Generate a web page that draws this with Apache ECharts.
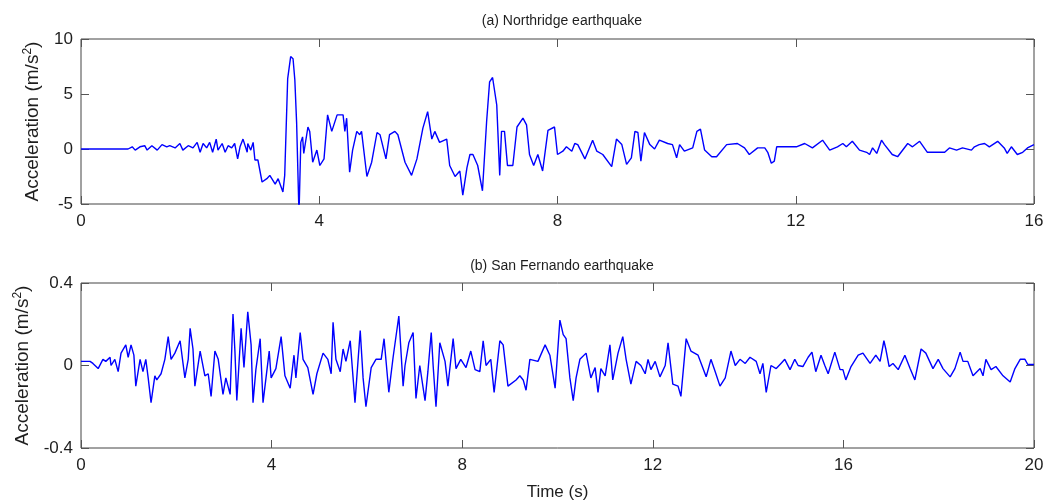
<!DOCTYPE html>
<html>
<head>
<meta charset="utf-8">
<script src="https://cdn.jsdelivr.net/npm/echarts/dist/echarts.min.js"></script>
<style>
  html, body { margin: 0; padding: 0; background: #fff; }
  #main { width: 1051px; height: 504px; }
</style>
</head>
<body>
<div id="main"></div>
<script>
// (a) Northridge: time (s) and acceleration (m/s2), read at the turning points
var tA = [0, 0.79, 0.86, 0.91, 0.99, 1.07, 1.11, 1.19, 1.28, 1.36, 1.44, 1.49, 1.58, 1.66, 1.71, 1.80, 1.88, 1.95,
  2.00, 2.05, 2.11, 2.16, 2.21, 2.27, 2.30, 2.37, 2.42, 2.47, 2.53, 2.58, 2.63, 2.67, 2.72, 2.79, 2.80, 2.85, 2.89, 2.92, 2.97,
  3.04, 3.12, 3.17, 3.26, 3.31, 3.39, 3.42, 3.47, 3.52, 3.56, 3.59, 3.62, 3.66, 3.69, 3.72, 3.74, 3.81, 3.84, 3.89, 3.96,
  4.01, 4.08, 4.14, 4.21, 4.30, 4.40, 4.43, 4.46, 4.51, 4.56, 4.63, 4.68, 4.71, 4.80, 4.82, 4.88, 4.97,
  5.02, 5.12, 5.18, 5.27, 5.32, 5.44, 5.55, 5.64, 5.74, 5.82, 5.89, 5.94,
  6.02, 6.14, 6.19, 6.28, 6.36, 6.41, 6.48, 6.53, 6.58, 6.66, 6.74, 6.81, 6.86, 6.91, 6.98,
  7.03, 7.06, 7.11, 7.16, 7.25, 7.32, 7.42, 7.48, 7.53, 7.60, 7.67, 7.75, 7.84, 7.95,
  8.00, 8.09, 8.15, 8.24, 8.29, 8.34, 8.46, 8.59, 8.66, 8.76, 8.91, 8.99,
  9.08, 9.16, 9.24, 9.30, 9.35, 9.40, 9.46, 9.55, 9.63, 9.71, 9.85, 9.93,
  10.00, 10.05, 10.13, 10.27, 10.34, 10.40, 10.47, 10.59, 10.67, 10.84,
  11.02, 11.14, 11.22, 11.36, 11.48, 11.53, 11.59, 11.64, 11.68, 11.81,
  12.01, 12.15, 12.28, 12.45, 12.57, 12.70, 12.79, 12.85, 12.95,
  13.07, 13.19, 13.24, 13.29, 13.36, 13.44, 13.49, 13.62, 13.71, 13.88, 13.96,
  14.08, 14.21, 14.50, 14.58, 14.70, 14.80, 14.95,
  15.00, 15.08, 15.17, 15.25, 15.39, 15.50, 15.55, 15.62, 15.72, 15.81, 15.89, 16.00];
var aA = [0, 0, 0.2, -0.1, 0.2, 0.3, -0.1, 0.3, -0.1, 0.4, 0.2, 0.3, 0.1, 0.5, -0.1, 0.3, 0.1, 0.6,
  -0.3, 0.5, 0.1, 0.6, -0.3, 0.9, -0.1, 0.5, -0.3, 0.3, 0.1, 0.5, -0.9, 0.2, 0.9, -0.3, 0.5, -0.1, 0.6, -1.0, -1.0,
  -3.0, -2.7, -2.4, -3.2, -2.7, -3.9, -2.4, 6.4, 8.4, 8.2, 6.3, 2.4, -6.0, 0.6, 1.1, -0.4, 2.0, 1.6, -1.2, -0.1,
  -1.5, -0.9, 3.1, 1.6, 3.1, 3.1, 1.6, 2.8, -2.1, -0.1, 1.6, 1.3, 1.6, -2.5, -2.6, -1.2, 1.5,
  1.3, -0.9, 1.3, 1.6, 1.3, -1.2, -2.4, -0.9, 1.9, 3.4, 0.9, 1.6,
  0.6, 0.9, -1.5, -2.5, -2.0, -4.2, -1.7, -0.5, -0.5, -1.5, -3.8, 2.5, 6.1, 6.5, 4.0,
  -2.4, 1.6, 1.6, -1.5, -1.5, 2.0, 2.8, 2.2, -0.5, -1.5, -0.5, -2.0, 1.7, 2.0,
  -0.5, -0.2, 0.2, -0.2, 0.5, 0.4, -0.9, 0.8, -0.2, -0.5, -1.6, 0.9,
  0.4, -1.4, -0.8, 1.6, 1.5, -1.1, 1.5, 0.4, 0.0, 0.8, 0.5, 0.4,
  -0.8, 0.4, -0.2, 0.1, 1.6, 1.8, -0.1, -0.7, -0.7, 0.4,
  0.5, 0.1, -0.5, 0.1, 0.1, -0.3, -1.3, -1.1, 0.2, 0.2,
  0.2, 0.5, 0.1, 0.8, -0.1, 0.2, 0.5, 0.2, 0.7,
  -0.1, -0.3, -0.5, 0.1, -0.4, 0.8, 0.4, -0.5, -0.7, 0.5, 0.2,
  0.7, -0.3, -0.3, 0.1, -0.1, 0.1, -0.1,
  0.2, 0.4, 0.5, 0.2, 0.7, 0.1, -0.4, 0.2, -0.5, -0.3, 0.1, 0.4];

// (b) San Fernando
var tB = [0, 0.19, 0.25, 0.36, 0.46, 0.52, 0.61, 0.63, 0.71, 0.78, 0.84, 0.94, 0.99,
  1.05, 1.11, 1.15, 1.24, 1.30, 1.36, 1.41, 1.47, 1.55, 1.59, 1.68, 1.76, 1.83, 1.89, 1.97,
  2.08, 2.18, 2.25, 2.29, 2.35, 2.39, 2.50, 2.60, 2.67, 2.73, 2.81, 2.88, 2.98,
  3.04, 3.13, 3.19, 3.23, 3.27, 3.36, 3.42, 3.50, 3.57, 3.61, 3.67, 3.76, 3.82, 3.95, 3.99,
  4.09, 4.20, 4.28, 4.39, 4.47, 4.51, 4.60, 4.66, 4.76, 4.87, 4.95,
  5.08, 5.18, 5.25, 5.29, 5.35, 5.44, 5.50, 5.56, 5.65, 5.75, 5.86, 5.92, 5.98,
  6.09, 6.19, 6.30, 6.36, 6.46, 6.55, 6.67, 6.76, 6.80, 6.88, 6.97,
  7.03, 7.11, 7.22, 7.28, 7.35, 7.39, 7.45, 7.53, 7.64, 7.70, 7.81, 7.87, 7.97,
  8.08, 8.18, 8.27, 8.37, 8.44, 8.50, 8.60, 8.67, 8.79, 8.86, 8.96,
  9.13, 9.21, 9.28, 9.34, 9.42, 9.59, 9.74, 9.84, 9.95,
  10.05, 10.12, 10.18, 10.26, 10.33, 10.39, 10.47, 10.60, 10.70, 10.79, 10.85, 10.91,
  11.00, 11.10, 11.16, 11.27, 11.37, 11.44, 11.54, 11.65, 11.75, 11.84, 11.90, 11.96,
  12.05, 12.15, 12.26, 12.32, 12.42, 12.53, 12.59, 12.70, 12.80, 12.95,
  13.12, 13.22, 13.31, 13.41, 13.52, 13.64, 13.73, 13.83, 13.94,
  14.04, 14.17, 14.25, 14.31, 14.38, 14.48, 14.59, 14.69, 14.77, 14.88, 14.98,
  15.05, 15.15, 15.26, 15.34, 15.42, 15.53, 15.61, 15.68, 15.82, 15.93, 15.99,
  16.05, 16.16, 16.31, 16.41, 16.56, 16.68, 16.77, 16.85, 16.89, 16.96,
  17.04, 17.15, 17.29, 17.40, 17.50, 17.63, 17.73, 17.88, 17.99,
  18.09, 18.24, 18.34, 18.45, 18.51, 18.61, 18.72, 18.87, 18.93, 18.99,
  19.10, 19.20, 19.35, 19.50, 19.60, 19.71, 19.81, 19.87, 20.00];
var aB = [0.02, 0.02, 0.01, -0.015, 0.03, 0.02, 0.04, 0.0, 0.03, -0.03, 0.06, 0.10, 0.04,
  0.10, 0.05, -0.10, 0.03, -0.03, 0.03, -0.06, -0.18, -0.05, -0.07, -0.04, 0.03, 0.14, 0.03, 0.06,
  0.12, -0.06, 0.03, 0.18, 0.08, -0.10, 0.07, -0.05, -0.04, -0.15, 0.07, 0.03, -0.14,
  -0.06, -0.14, 0.25, 0.07, -0.17, 0.18, -0.01, 0.26, 0.10, -0.18, -0.02, 0.13, -0.18, 0.07, -0.06,
  -0.015, 0.14, -0.05, -0.11, 0.05, -0.06, 0.16, 0.03, -0.01, -0.14, -0.04,
  0.06, 0.03, -0.04, 0.21, 0.03, -0.03, 0.08, 0.02, 0.12, -0.18, 0.17, -0.06, -0.20,
  -0.01, 0.03, 0.03, 0.13, -0.13, 0.04, 0.24, -0.10, 0.0, 0.11, 0.16,
  -0.16, 0.0, -0.17, -0.03, 0.16, 0.0, -0.20, 0.11, 0.02, -0.10, 0.13, -0.015, 0.03,
  -0.01, 0.07, -0.02, -0.03, 0.12, 0.0, 0.03, -0.13, 0.12, 0.10, -0.10,
  -0.07, -0.05, -0.07, -0.12, 0.03, 0.02, 0.10, 0.05, -0.11,
  0.22, 0.15, 0.13, -0.06, -0.17, -0.06, 0.03, 0.06, -0.06, -0.01, -0.13, -0.015,
  -0.05, 0.10, -0.07, 0.06, 0.14, 0.03, -0.09, 0.02, 0.0, -0.04, 0.03, -0.02,
  0.02, -0.055, 0.0, 0.11, -0.09, -0.10, -0.15, 0.13, 0.07, 0.05,
  -0.055, 0.03, -0.03, -0.10, -0.06, 0.07, 0.0, 0.03, 0.01,
  0.04, 0.02, -0.04, 0.01, -0.13, 0.0, -0.015, 0.01, 0.03, -0.02, 0.03,
  0.0, -0.005, 0.04, 0.065, -0.03, 0.05, 0.0, -0.04, 0.065, -0.02, -0.02,
  -0.07, -0.005, 0.05, 0.06, 0.01, 0.05, 0.02, 0.12, 0.08, -0.005,
  0.01, -0.02, 0.05, -0.015, -0.07, 0.08, 0.06, -0.015, 0.03,
  -0.015, -0.055, -0.015, 0.065, 0.02, 0.02, -0.05, -0.015, -0.05, 0.03,
  -0.02, -0.005, -0.05, -0.08, -0.015, 0.03, 0.03, 0.005, 0.005];

var titles = ['(a) Northridge earthquake', '(b) San Fernando earthquake'];

window.onload = function() {

  var font = "'Liberation Sans', Arial, sans-serif";
  var txt = '#1e1e1e';

  function pairs(t, a) {
    return t.map(function(v, i) { return [v, a[i]]; });
  }

  function xAx(gi, max, pos, main) {
    return {
      type: 'value', gridIndex: gi, position: pos,
      min: 0, max: max, interval: 4,
      axisLine: { show: false, onZero: false },
      axisTick: { show: true, inside: true, length: 8, lineStyle: { color: '#555', width: 1 } },
      axisLabel: { show: main, margin: 9, fontSize: 17, color: txt, fontFamily: font },
      splitLine: { show: false }
    };
  }

  function yAx(gi, min, max, step, pos, main, gap) {
    var ax = {
      type: 'value', gridIndex: gi, position: pos,
      min: min, max: max, interval: step,
      axisLine: { show: false, onZero: false },
      axisTick: { show: true, inside: true, length: 8, lineStyle: { color: '#555', width: 1 } },
      axisLabel: { show: main, margin: 8, fontSize: 17, color: txt, fontFamily: font },
      splitLine: { show: false }
    };
    if (main) {
      ax.name = 'Acceleration (m/s{sup|2})';
      ax.nameLocation = 'middle';
      ax.nameGap = gap;
      ax.nameTextStyle = {
        fontSize: 19, color: txt, fontFamily: font,
        rich: { sup: { fontSize: 12, color: txt, fontFamily: font, padding: [0, 0, 9, 0] } }
      };
    }
    return ax;
  }

  var xB = xAx(1, 20, 'bottom', true);
  xB.name = 'Time (s)';
  xB.nameLocation = 'middle';
  xB.nameGap = 36;
  xB.nameTextStyle = { fontSize: 17, color: txt, fontFamily: font };

  var option = {
    backgroundColor: '#FFFFFF',
    animation: false,
    title: [
      { text: titles[0], left: 557, top: 9, textAlign: 'center',
        textStyle: { fontSize: 14, fontWeight: 'normal', color: txt, fontFamily: font } },
      { text: titles[1], left: 557, top: 254, textAlign: 'center',
        textStyle: { fontSize: 14, fontWeight: 'normal', color: txt, fontFamily: font } }
    ],
    grid: [
      { left: 81, top: 39, width: 953, height: 165, show: true, borderColor: '#444', borderWidth: 1 },
      { left: 81, top: 283, width: 953, height: 165, show: true, borderColor: '#444', borderWidth: 1 }
    ],
    xAxis: [
      xAx(0, 16, 'bottom', true),
      xAx(0, 16, 'top', false),
      xB,
      xAx(1, 20, 'top', false)
    ],
    yAxis: [
      yAx(0, -5, 10, 5, 'left', true, 38),
      yAx(0, -5, 10, 5, 'right', false),
      yAx(1, -0.4, 0.4, 0.4, 'left', true, 48),
      yAx(1, -0.4, 0.4, 0.4, 'right', false)
    ],
    series: [
      {
        type: 'line', xAxisIndex: 0, yAxisIndex: 0,
        data: pairs(tA, aA),
        showSymbol: false, symbol: 'none',
        lineStyle: { color: '#0000ff', width: 1.4 }
      },
      {
        type: 'line', xAxisIndex: 2, yAxisIndex: 2,
        data: pairs(tB, aB),
        showSymbol: false, symbol: 'none',
        lineStyle: { color: '#0000ff', width: 1.4 }
      }
    ]
  };

  var chart = echarts.init(document.getElementById('main'));
  chart.setOption(option);

}
</script>
</body>
</html>
